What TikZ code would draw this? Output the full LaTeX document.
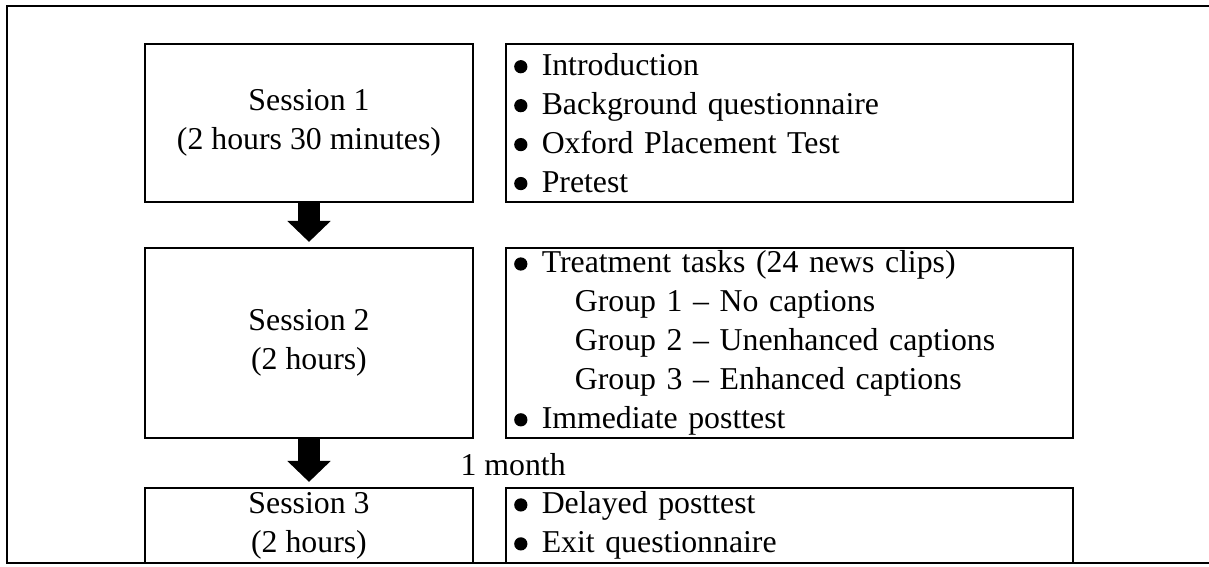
\documentclass[tikz,border=0pt]{standalone}
\usepackage{fontspec}
\setmainfont{Liberation Serif}
\usepackage{tikz}
\usetikzlibrary{positioning,calc,arrows.meta}

% bullet item with the text set at a fixed indent
\newcommand{\dotmark}{\tikz[baseline=-3.3pt]\fill (0,0) circle (2.5pt);}
\newcommand{\itm}[1]{\makebox[11pt][l]{\hspace*{0.6pt}\dotmark}#1}
\newcommand{\grp}[1]{\hspace*{23.5pt}#1}

\tikzset{
  frame/.style={line width=1pt},
  sessbox/.style={draw, line width=0.8pt, minimum width=123.8pt, inner sep=0pt, align=center},
  taskbox/.style={draw, line width=0.8pt, minimum width=214pt, inner xsep=2pt, inner ysep=0pt,
    text width=209pt, align=left},
  flowarrow/.style={line width=8.3pt, -{Triangle[length=7.9pt, width=15.9pt]}, shorten >=1.9pt}
}

\begin{document}
\begin{tikzpicture}[x=0.3774pt, y=-0.3774pt, font=\fontsize{12pt}{14.7pt}\selectfont]
  \useasboundingbox (0,0) rectangle (1209,566);

  % Outer frame (open on the right)
  \draw[frame] (1209,6) -- (7,6) -- (7,563) -- (1209,563);

  % Sessions
  \node[sessbox, minimum height=59.6pt] (s1) at (309,123) {Session 1\\(2 hours 30 minutes)};
  \node[sessbox, minimum height=71.7pt] (s2) at (309,343) {Session 2\\(2 hours)};
  \node[sessbox, minimum height=28.3pt] (s3) at (309,525.5) {Session 3\\(2 hours)};

  % Tasks
  \node[taskbox, minimum height=59.6pt] (t1) at (789.5,123) {%
    \itm{Introduction}\\
    \itm{Background questionnaire}\\
    \itm{Oxford Placement Test}\\
    \itm{Pretest}};
  \node[taskbox, minimum height=71.7pt] (t2) at (789.5,343) {%
    \itm{Treatment tasks (24 news clips)}\\
    \grp{Group 1 -- No captions}\\
    \grp{Group 2 -- Unenhanced captions}\\
    \grp{Group 3 -- Enhanced captions}\\
    \itm{Immediate posttest}};
  \node[taskbox, minimum height=28.3pt] (t3) at (789.5,525.5) {%
    \itm{Delayed posttest}\\
    \itm{Exit questionnaire}};

  % Flow
  \draw[flowarrow] (s1.south) -- (s2.north);
  \draw[flowarrow] (s2.south) -- (s3.north);
  \node[anchor=west, inner sep=0pt] (gap) at (460,465) {1 month};
\end{tikzpicture}
\end{document}
